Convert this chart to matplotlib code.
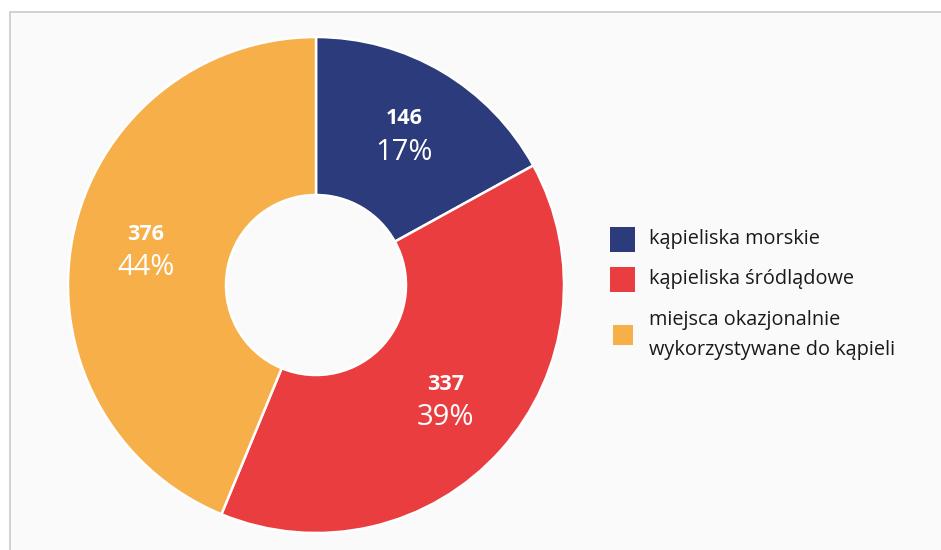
import numpy as np
import matplotlib
matplotlib.use("Agg")
import matplotlib.pyplot as plt
from matplotlib.patches import Rectangle

plt.rcParams['font.family'] = ['Open Sans', 'DejaVu Sans']

categories = ["kąpieliska morskie", "kąpieliska śródlądowe",
              "miejsca okazjonalnie\nwykorzystywane do kąpieli"]
values = [146, 337, 376]
percent_labels = ["17%", "39%", "44%"]
colors = ["#2b3b7b", "#ea3d40", "#f7af4a"]

W, H = 941, 550
fig = plt.figure(figsize=(W / 100, H / 100), dpi=100)
fig.patch.set_facecolor("white")

# panel background with light border
fig.add_artist(Rectangle((10 / W, -0.05), 1.0, (H - 12) / H + 0.05,
                         transform=fig.transFigure, facecolor="#fafafa",
                         edgecolor="#c9c9c9", linewidth=1.2, zorder=0))

cx, cy, R = 316, 285, 248
ax = fig.add_axes([(cx - R) / W, (H - cy - R) / H, 2 * R / W, 2 * R / H])
ax.set_facecolor("none")
wedges, _ = ax.pie(values, colors=colors, startangle=90, counterclock=False,
                   radius=1.0,
                   wedgeprops=dict(width=1 - 90 / 248, edgecolor="white",
                                   linewidth=1.8))
ax.set_xlim(-1, 1)
ax.set_ylim(-1, 1)
ax.set_aspect("equal")
ax.axis("off")

r_lab = 0.70
for w, v, p in zip(wedges, values, percent_labels):
    ang = np.deg2rad((w.theta1 + w.theta2) / 2)
    x, y = r_lab * np.cos(ang), r_lab * np.sin(ang)
    ax.annotate(str(v), (x, y), xytext=(0, 12), textcoords="offset points",
                ha="center", va="center", color="white", fontsize=15.5,
                fontweight="bold")
    ax.annotate(p, (x, y), xytext=(0, -12), textcoords="offset points",
                ha="center", va="center", color="white", fontsize=21)

# legend
leg_items = [(239, 25), (279, 25), (335, 20)]
for (yc, s), lab, col in zip(leg_items, categories, colors):
    x0 = 610 + (25 - s) / 2
    fig.add_artist(Rectangle((x0 / W, (H - yc - s / 2) / H), s / W, s / H,
                             transform=fig.transFigure, facecolor=col,
                             edgecolor="none"))
    fig.text(649 / W, (H - yc) / H, lab, ha="left", va="center",
             fontsize=14.3, color="#1a1a1a", linespacing=1.7)

fig.savefig("out.png", dpi=100, facecolor=fig.get_facecolor())
